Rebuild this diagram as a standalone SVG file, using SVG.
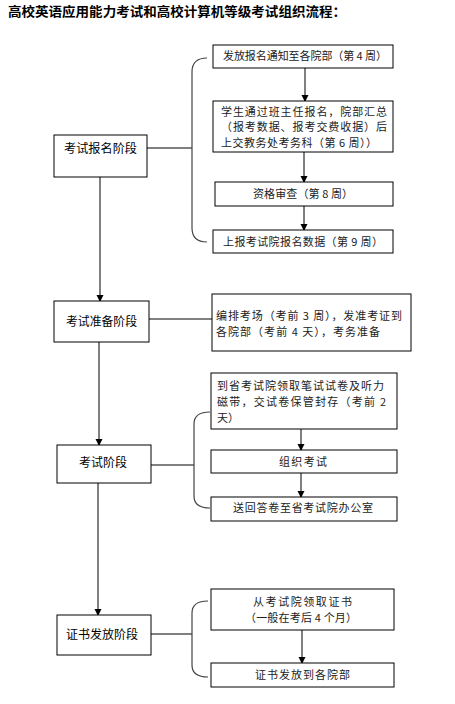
<svg xmlns="http://www.w3.org/2000/svg" width="455" height="704" viewBox="0 0 455 704">
<style>
.box{fill:#fff;stroke:#000;stroke-width:1}
.st{font-family:"Noto Sans CJK SC","Noto Sans CJK JP",sans-serif;font-size:12px;fill:#000}
.tx{font-family:"Noto Sans CJK SC","Noto Sans CJK JP",sans-serif;font-size:11px;fill:#222}
.ln{fill:none;stroke:#000;stroke-width:1}
.br{fill:none;stroke:#444;stroke-width:1.2}
.ar{fill:none;stroke:#000;stroke-width:1;marker-end:url(#ah)}
</style>
<defs>
<marker id="ah" markerWidth="8" markerHeight="8" refX="6" refY="3.5" orient="auto" markerUnits="userSpaceOnUse">
<path d="M0,0 L7,3.5 L0,7 Z" fill="#000"/>
</marker>
</defs>
<rect width="455" height="704" fill="#fff"/>
<text x="8" y="16" font-family="Noto Sans CJK SC,sans-serif" font-size="13" font-weight="bold" textLength="338" lengthAdjust="spacingAndGlyphs">高校英语应用能力考试和高校计算机等级考试组织流程：</text>

<g id="connectors">
<line class="ar" x1="100" y1="177" x2="100" y2="301"/>
<line class="ar" x1="99" y1="342" x2="99" y2="445"/>
<line class="ar" x1="98" y1="483" x2="98" y2="615"/>
<line class="ln" x1="147" y1="148" x2="192" y2="148"/>
<path class="br" d="M207,58 Q192,58 192,72 L192,228 Q192,242 207,242"/>
<line class="ar" x1="305" y1="68" x2="305" y2="101"/>
<line class="ar" x1="304" y1="152" x2="304" y2="182"/>
<line class="ar" x1="304" y1="206" x2="304" y2="230"/>
<line class="ln" x1="149" y1="319" x2="212" y2="319"/>
<line class="ln" x1="151" y1="465" x2="194" y2="465"/>
<path class="br" d="M210,412 Q194,412 194,424 L194,496 Q194,508 210,508"/>
<line class="ar" x1="301" y1="429" x2="301" y2="450"/>
<line class="ar" x1="301" y1="473" x2="301" y2="497"/>
<line class="ln" x1="151" y1="634" x2="192" y2="634"/>
<path class="br" d="M208,601 Q192,601 192,613 L192,665 Q192,677 208,677"/>
<line class="ar" x1="302" y1="630" x2="302" y2="663"/>
</g>

<g id="stage1"><rect class="box" x="54" y="135" width="93" height="42"/><text class="st" x="64" y="153" textLength="73" lengthAdjust="spacingAndGlyphs">考试报名阶段</text></g>
<g id="stage2"><rect class="box" x="54" y="301" width="95" height="41"/><text class="st" x="66" y="326" textLength="71" lengthAdjust="spacingAndGlyphs">考试准备阶段</text></g>
<g id="stage3"><rect class="box" x="57" y="445" width="94" height="38"/><text class="st" x="79" y="467" textLength="48" lengthAdjust="spacingAndGlyphs">考试阶段</text></g>
<g id="stage4"><rect class="box" x="57" y="615" width="94" height="40"/><text class="st" x="66" y="639" textLength="72" lengthAdjust="spacingAndGlyphs">证书发放阶段</text></g>

<g id="b1"><rect class="box" x="213" y="45" width="180" height="23"/><text class="tx" x="223" y="60" textLength="164" lengthAdjust="spacing">发放报名通知至各院部（第 4 周）</text></g>
<g id="b2"><rect class="box" x="213" y="101" width="180" height="51"/>
<text class="tx" x="221" y="116" textLength="166" lengthAdjust="spacing">学生通过班主任报名，院部汇总</text>
<text class="tx" x="221" y="131" textLength="166" lengthAdjust="spacing">（报考数据、报考交费收据）后</text>
<text class="tx" x="221" y="147" textLength="156" lengthAdjust="spacing">上交教务处考务科（第 6 周））</text></g>
<g id="b3"><rect class="box" x="215" y="182" width="178" height="24"/><text class="tx" x="253" y="198" textLength="100" lengthAdjust="spacing">资格审查（第 8 周）</text></g>
<g id="b4"><rect class="box" x="213" y="230" width="180" height="23"/><text class="tx" x="223" y="246" textLength="160" lengthAdjust="spacing">上报考试院报名数据（第 9 周）</text></g>

<g id="b5"><rect class="box" x="212" y="294" width="199" height="57"/>
<text class="tx" x="216" y="320" textLength="186" lengthAdjust="spacing">编排考场（考前 3 周），发准考证到</text>
<text class="tx" x="216" y="336" textLength="164" lengthAdjust="spacing">各院部（考前 4 天），考务准备</text></g>

<g id="b6"><rect class="box" x="211" y="373" width="186" height="56"/>
<text class="tx" x="217" y="390" textLength="167" lengthAdjust="spacing">到省考试院领取笔试试卷及听力</text>
<text class="tx" x="217" y="406" textLength="169" lengthAdjust="spacing">磁带，交试卷保管封存（考前 2</text>
<text class="tx" x="217" y="422" textLength="22" lengthAdjust="spacing">天）</text></g>
<g id="b7"><rect class="box" x="211" y="450" width="186" height="23"/><text class="tx" x="279" y="466" textLength="48" lengthAdjust="spacing">组织考试</text></g>
<g id="b8"><rect class="box" x="211" y="497" width="186" height="24"/><text class="tx" x="233" y="512" textLength="140" lengthAdjust="spacing">送回答卷至省考试院办公室</text></g>

<g id="b9"><rect class="box" x="211" y="589" width="183" height="41"/>
<text class="tx" x="253" y="606" textLength="99" lengthAdjust="spacing">从考试院领取证书</text>
<text class="tx" x="245" y="622" textLength="112" lengthAdjust="spacing">（一般在考后 4 个月）</text></g>
<g id="b10"><rect class="box" x="211" y="663" width="183" height="24"/><text class="tx" x="255" y="679" textLength="95" lengthAdjust="spacing">证书发放到各院部</text></g>
</svg>
